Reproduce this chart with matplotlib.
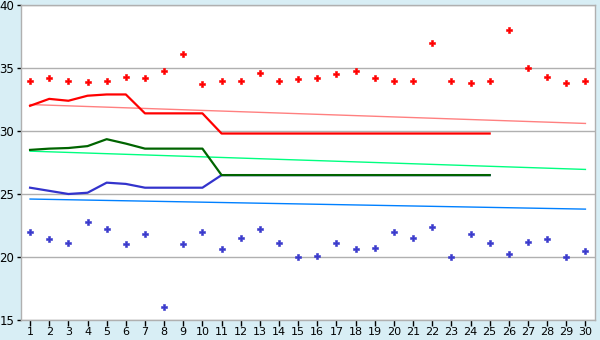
import matplotlib
matplotlib.use("Agg")
import matplotlib.pyplot as plt

# data
days = list(range(1, 31))

high_pts = [34.0, 34.2, 34.0, 33.9, 34.0, 34.3, 34.2, 34.8, 36.1, 33.7,
            34.0, 34.0, 34.6, 34.0, 34.1, 34.2, 34.5, 34.8, 34.2, 34.0,
            34.0, 37.0, 34.0, 33.8, 34.0, 38.0, 35.0, 34.3, 33.8, 34.0]
low_pts = [22.0, 21.4, 21.1, 22.8, 22.2, 21.0, 21.8, 16.0, 21.0, 22.0,
           20.6, 21.5, 22.2, 21.1, 20.0, 20.1, 21.1, 20.6, 20.7, 22.0,
           21.5, 22.4, 20.0, 21.8, 21.1, 20.2, 21.2, 21.4, 20.0, 20.5]

line_days = list(range(1, 26))
max_line = [32.0, 32.55, 32.4, 32.8, 32.9, 32.9, 31.4, 31.4, 31.4, 31.4] + [29.8] * 15
avg_line = [28.5, 28.6, 28.65, 28.8, 29.35, 29.0, 28.6, 28.6, 28.6, 28.6] + [26.5] * 15
min_line = [25.5, 25.25, 25.0, 25.1, 25.9, 25.8, 25.5, 25.5, 25.5, 25.5] + [26.5] * 15

trend_days = [1, 30]
trend_high = [32.1, 30.6]
trend_avg = [28.4, 26.95]
trend_low = [24.6, 23.8]

BG = "#d8eef5"
GRID = "#b0b0b0"

fig = plt.figure(figsize=(6, 3.4), dpi=100)
fig.patch.set_facecolor(BG)
ax = fig.add_axes([20.5 / 600, 20 / 340, 574.5 / 600, 315 / 340])
ax.set_facecolor("white")

ax.set_xlim(0.5, 30.5)
ax.set_ylim(15, 40)
ax.set_yticks([15, 20, 25, 30, 35, 40])
ax.set_xticks(days)
ax.yaxis.grid(True, color=GRID, linewidth=1)
ax.set_axisbelow(True)

for s in ax.spines.values():
    s.set_color(GRID)
    s.set_linewidth(1)

ax.tick_params(axis="y", length=3, width=1, pad=1.5, labelsize=8.5, color="black")
ax.tick_params(axis="x", length=4, width=1, pad=1, labelsize=8, color="black")

# trend lines
ax.plot(trend_days, trend_high, color="#ff8080", lw=1, zorder=2)
ax.plot(trend_days, trend_avg, color="#00ff80", lw=1, zorder=2)
ax.plot(trend_days, trend_low, color="#0080ff", lw=1, zorder=2)

# thick lines
ax.plot(line_days, min_line, color="#3333cc", lw=1.6, zorder=3)
ax.plot(line_days, avg_line, color="#006400", lw=1.6, zorder=4)
ax.plot(line_days, max_line, color="#ff0000", lw=1.6, zorder=4)

# points
ax.plot(days, high_pts, ls="none", marker="P", ms=5, color="#ff0000",
        markeredgewidth=0.4, zorder=5)
ax.plot(days, low_pts, ls="none", marker="P", ms=5, color="#3a3acc",
        markeredgewidth=0.4, zorder=5)

plt.savefig("out.png", dpi=100, facecolor=fig.get_facecolor())
